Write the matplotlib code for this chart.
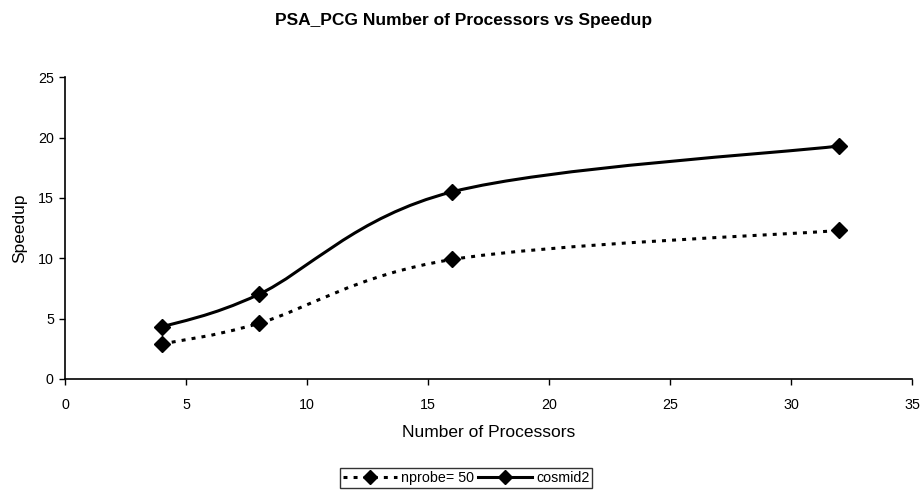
import numpy as np
import matplotlib.pyplot as plt
from matplotlib.path import Path
from matplotlib.patches import PathPatch
from matplotlib.lines import Line2D

plt.rcParams["font.family"] = ["Liberation Sans", "DejaVu Sans"]

processors = [4, 8, 16, 32]
speedup_nprobe = [2.9, 4.6, 9.9, 12.3]
speedup_cosmid = [4.3, 7.0, 15.5, 19.3]


def smooth_path(xs, ys):
    # Catmull-Rom style cubic bezier through the points
    pts = np.column_stack([xs, ys]).astype(float)
    verts = [pts[0]]
    codes = [Path.MOVETO]
    n = len(pts)
    for i in range(n - 1):
        p0 = pts[i - 1] if i > 0 else pts[i]
        p1 = pts[i]
        p2 = pts[i + 1]
        p3 = pts[i + 2] if i + 2 < n else pts[i + 1]
        c1 = p1 + (p2 - p0) / 6.0
        c2 = p2 - (p3 - p1) / 6.0
        verts += [c1, c2, p2]
        codes += [Path.CURVE4] * 3
    return Path(verts, codes)


fig = plt.figure(figsize=(9.23, 4.94), dpi=100)
ax = fig.add_axes([0.0704, 0.2328, 0.9176, 0.611])

dotted = (0, (1.3, 2.0))
ax.add_patch(PathPatch(smooth_path(processors, speedup_nprobe), fill=False,
                       lw=2.2, ls=dotted, color="black", capstyle="butt"))
ax.add_patch(PathPatch(smooth_path(processors, speedup_cosmid), fill=False,
                       lw=2.2, color="black"))
ax.plot(processors, speedup_nprobe, ls="none", marker="D", ms=8, color="black")
ax.plot(processors, speedup_cosmid, ls="none", marker="D", ms=8, color="black")

ax.set_xlim(0, 35)
ax.set_ylim(0, 25)
ax.set_xticks(range(0, 36, 5))
ax.set_yticks(range(0, 26, 5))
for side in ["top", "right"]:
    ax.spines[side].set_visible(False)
ax.spines["left"].set_linewidth(1.2)
ax.spines["bottom"].set_linewidth(1.2)
ax.tick_params(direction="out", length=4, width=1, labelsize=10.3)
ax.tick_params(axis="x", pad=10)
ax.tick_params(axis="y", pad=4)

ax.set_xlabel("Number of Processors", fontsize=12.5, labelpad=9)
ax.set_ylabel("Speedup", fontsize=12.5, labelpad=8)
fig.text(0.502, 0.958, "PSA_PCG Number of Processors vs Speedup",
         fontsize=12.5, fontweight="bold", ha="center", va="center")

handles = [
    Line2D([], [], color="black", lw=2.2, ls=dotted, marker="D", ms=7),
    Line2D([], [], color="black", lw=2.2, marker="D", ms=7),
]
leg = fig.legend(handles, ["nprobe= 50", "cosmid2"], loc="center",
                 bbox_to_anchor=(0.505, 0.032), ncol=2, fontsize=10.3,
                 frameon=True, fancybox=False, handlelength=3.8,
                 handletextpad=0.25, columnspacing=0.3, borderpad=0.2,
                 borderaxespad=0)
leg.get_frame().set_edgecolor("black")
leg.get_frame().set_linewidth(1.0)

fig.savefig("out.png", dpi=100)
